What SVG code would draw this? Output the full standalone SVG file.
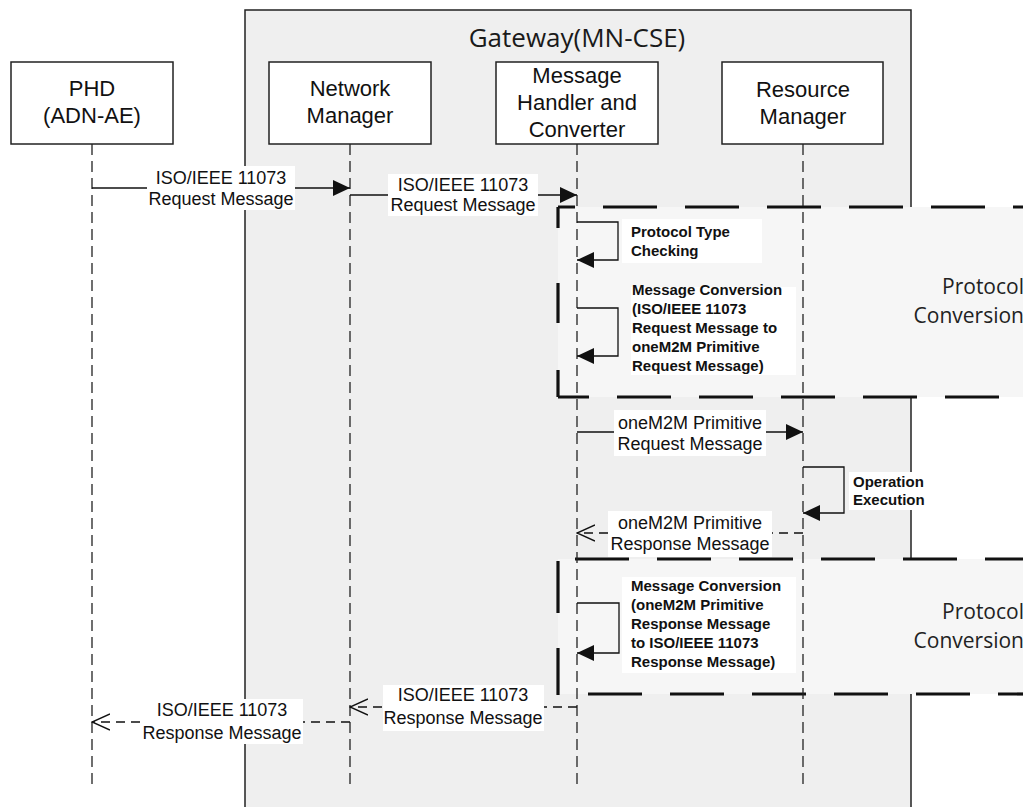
<svg xmlns="http://www.w3.org/2000/svg" width="1023" height="807" viewBox="0 0 1023 807">
  <defs>
    <marker id="arrowFilled" viewBox="0 0 17 16" refX="17" refY="8" markerWidth="17" markerHeight="16" markerUnits="userSpaceOnUse" orient="auto">
      <path d="M0,0 L17,8 L0,16 Z" fill="#111"/>
    </marker>
    <marker id="arrowOpen" viewBox="0 0 19 18" refX="18" refY="9" markerWidth="19" markerHeight="18" markerUnits="userSpaceOnUse" orient="auto">
      <path d="M0,1 L18,9 L0,17" fill="none" stroke="#111" stroke-width="1.4"/>
    </marker>
    <style>
      .frame{fill:#efefef;stroke:#222;stroke-width:1.5}
      .zone{fill:#f6f6f6;stroke:none}
      .zoneEdge{fill:none;stroke:#111;stroke-width:3.2;stroke-dasharray:54 28}
      .zoneSide{fill:none;stroke:#111;stroke-width:3.2}
      .box{fill:#fff;stroke:#222;stroke-width:1.5}
      .nodeText{font-family:"Liberation Sans",Arial,sans-serif;font-size:22px;fill:#111;text-anchor:middle}
      .title{font-family:"Open Sans","Noto Sans",sans-serif;font-size:26px;fill:#1a1a1a;text-anchor:middle}
      .zoneText{font-family:"Open Sans","Noto Sans",sans-serif;font-size:21px;fill:#222;text-anchor:end}
      .life{fill:none;stroke:#222;stroke-width:1.3;stroke-dasharray:11 6}
      .msg{fill:none;stroke:#111;stroke-width:1.3}
      .reply{fill:none;stroke:#111;stroke-width:1.3;stroke-dasharray:9 6}
      .lbg{fill:#fff}
      .lbl{font-family:"Liberation Sans",Arial,sans-serif;font-size:18px;fill:#111;text-anchor:middle}
      .note{font-family:"Liberation Sans",Arial,sans-serif;font-size:15px;font-weight:bold;fill:#111}
    </style>
  </defs>

  <rect width="1023" height="807" fill="#fff"/>

  <!-- gateway container -->
  <g id="gateway">
    <rect class="frame" x="245" y="10" width="666" height="830"/>
    <text class="title" x="577" y="47">Gateway(MN-CSE)</text>
  </g>

  <!-- protocol conversion regions -->
  <g id="protocol-conversion-1">
    <rect class="zone" x="558" y="207" width="470" height="190"/>
    <line class="zoneEdge" x1="558" y1="207" x2="1030" y2="207" stroke-dashoffset="37"/>
    <line class="zoneEdge" x1="558" y1="397" x2="1030" y2="397" stroke-dashoffset="23"/>
    <path class="zoneSide" d="M558,207 V228 M558,283 V323 M558,370 V397"/>
    <text class="zoneText" x="1024" y="294">Protocol</text>
    <text class="zoneText" x="1024" y="323">Conversion</text>
  </g>
  <g id="protocol-conversion-2">
    <rect class="zone" x="558" y="559" width="470" height="135"/>
    <line class="zoneEdge" x1="575" y1="559" x2="1030" y2="559"/>
    <line class="zoneEdge" x1="588" y1="694" x2="1030" y2="694"/>
    <path class="zoneSide" d="M558,561 V613 M558,648 V695"/>
    <text class="zoneText" x="1024" y="619">Protocol</text>
    <text class="zoneText" x="1024" y="648">Conversion</text>
  </g>

  <!-- participants -->
  <g id="phd">
    <rect class="box" x="11" y="62" width="162" height="82"/>
    <text class="nodeText" x="92" y="96">PHD</text>
    <text class="nodeText" x="92" y="123">(ADN-AE)</text>
    <line class="life" x1="92" y1="144" x2="92" y2="786"/>
  </g>
  <g id="network-manager">
    <rect class="box" x="269" y="62" width="162" height="82"/>
    <text class="nodeText" x="350" y="96">Network</text>
    <text class="nodeText" x="350" y="123">Manager</text>
    <line class="life" x1="350" y1="144" x2="350" y2="786"/>
  </g>
  <g id="message-handler">
    <rect class="box" x="496" y="62" width="162" height="82"/>
    <text class="nodeText" x="577" y="83">Message</text>
    <text class="nodeText" x="577" y="110">Handler and</text>
    <text class="nodeText" x="577" y="137">Converter</text>
    <line class="life" x1="577" y1="144" x2="577" y2="786"/>
  </g>
  <g id="resource-manager">
    <rect class="box" x="722" y="62" width="161" height="82"/>
    <text class="nodeText" x="803" y="97">Resource</text>
    <text class="nodeText" x="803" y="124">Manager</text>
    <line class="life" x1="803" y1="144" x2="803" y2="786"/>
  </g>

  <!-- messages -->
  <g id="connectors">
    <line class="msg" x1="92" y1="188" x2="350" y2="188" marker-end="url(#arrowFilled)"/>
    <line class="msg" x1="350" y1="195" x2="577" y2="195" marker-end="url(#arrowFilled)"/>
    <path class="msg" d="M577,222 H618 V260 H577" marker-end="url(#arrowFilled)"/>
    <path class="msg" d="M577,308 H618 V356 H577" marker-end="url(#arrowFilled)"/>
    <line class="msg" x1="577" y1="432" x2="803" y2="432" marker-end="url(#arrowFilled)"/>
    <path class="msg" d="M803,467 H844 V513 H803" marker-end="url(#arrowFilled)"/>
    <line class="reply" x1="803" y1="533" x2="577" y2="533" marker-end="url(#arrowOpen)"/>
    <path class="msg" d="M577,603 H619 V653 H577" marker-end="url(#arrowFilled)"/>
    <line class="reply" x1="577" y1="707" x2="350" y2="707" marker-end="url(#arrowOpen)"/>
    <line class="reply" x1="350" y1="722" x2="92" y2="722" marker-end="url(#arrowOpen)"/>
  </g>

  <!-- message labels -->
  <g id="labels">
    <rect class="lbg" x="147" y="166" width="148" height="44"/>
    <text class="lbl" x="221" y="184">ISO/IEEE 11073</text>
    <text class="lbl" x="221" y="205">Request Message</text>

    <rect class="lbg" x="388" y="174" width="150" height="42"/>
    <text class="lbl" x="463" y="191">ISO/IEEE 11073</text>
    <text class="lbl" x="463" y="211">Request Message</text>

    <rect class="lbg" x="622" y="219" width="140" height="44"/>
    <text class="note" x="631" y="237">Protocol Type</text>
    <text class="note" x="631" y="256">Checking</text>

    <rect class="lbg" x="631" y="287" width="165" height="88"/>
    <text class="note" x="632" y="295">Message Conversion</text>
    <text class="note" x="632" y="314">(ISO/IEEE 11073</text>
    <text class="note" x="632" y="333">Request Message to</text>
    <text class="note" x="632" y="352">oneM2M Primitive</text>
    <text class="note" x="632" y="371">Request Message)</text>

    <rect class="lbg" x="614" y="410" width="152" height="46"/>
    <text class="lbl" x="690" y="429">oneM2M Primitive</text>
    <text class="lbl" x="690" y="450">Request Message</text>

    <rect class="lbg" x="849" y="472" width="80" height="38"/>
    <text class="note" x="853" y="487">Operation</text>
    <text class="note" x="853" y="505">Execution</text>

    <rect class="lbg" x="608" y="511" width="164" height="46"/>
    <text class="lbl" x="690" y="529">oneM2M Primitive</text>
    <text class="lbl" x="690" y="550">Response Message</text>

    <rect class="lbg" x="622" y="577" width="174" height="96"/>
    <text class="note" x="631" y="591">Message Conversion</text>
    <text class="note" x="631" y="610">(oneM2M Primitive</text>
    <text class="note" x="631" y="629">Response Message</text>
    <text class="note" x="631" y="648">to ISO/IEEE 11073</text>
    <text class="note" x="631" y="667">Response Message)</text>

    <rect class="lbg" x="383" y="685" width="161" height="46"/>
    <text class="lbl" x="463" y="701">ISO/IEEE 11073</text>
    <text class="lbl" x="463" y="724">Response Message</text>

    <rect class="lbg" x="141" y="699" width="162" height="45"/>
    <text class="lbl" x="222" y="716">ISO/IEEE 11073</text>
    <text class="lbl" x="222" y="739">Response Message</text>
  </g>
</svg>
